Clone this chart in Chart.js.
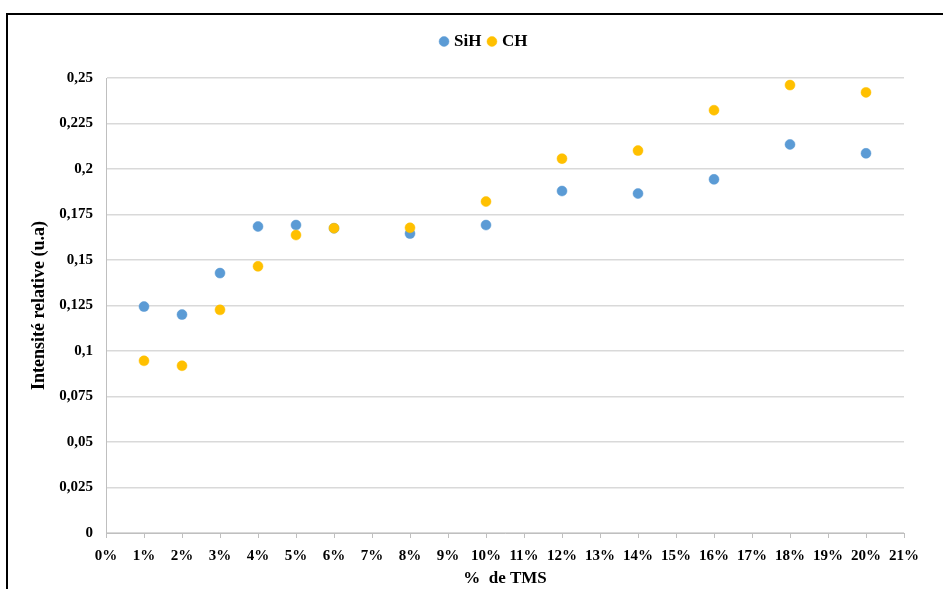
<!DOCTYPE html>
<html>
<head>
<meta charset="utf-8">
<script src="https://cdn.jsdelivr.net/npm/chart.js@4.4.1/dist/chart.umd.min.js"></script>
<style>
  html, body { margin: 0; padding: 0; background: #fff; overflow: hidden; }
  #wrap { position: relative; width: 943px; height: 589px; }
  #frame { position: absolute; left: 6px; top: 13px; width: 960px; height: 600px;
           border-top: 2px solid #000; border-left: 2px solid #000; pointer-events: none; }
</style>
</head>
<body>
<div id="wrap">
  <canvas id="c" width="943" height="589"></canvas>
  <div id="frame"></div>
</div>
<script>
// ---- data ----
const tmsPercent = [1, 2, 3, 4, 5, 6, 8, 10, 12, 14, 16, 18, 20];
const sihValues  = [0.1244, 0.1200, 0.1428, 0.1684, 0.1692, 0.1674, 0.1645, 0.1692, 0.1879, 0.1865, 0.1943, 0.2135, 0.2086];
const chValues   = [0.0946, 0.0919, 0.1226, 0.1465, 0.1637, 0.1675, 0.1677, 0.1821, 0.2057, 0.2101, 0.2323, 0.2461, 0.2421];
const xTickLabels = ['0%','1%','2%','3%','4%','5%','6%','7%','8%','9%','10%','11%','12%','13%','14%','15%','16%','17%','18%','19%','20%','21%'];
const yTickLabels = ['0','0,025','0,05','0,075','0,1','0,125','0,15','0,175','0,2','0,225','0,25'];
const seriesNames = ['SiH', 'CH'];
const xTitle = '%  de TMS';
const yTitle = 'Intensité relative (u.a)';

const FONT = '"Liberation Serif", "Times New Roman", serif';
const toPts = (ys) => tmsPercent.map((x, i) => ({ x: x, y: ys[i] }));

const legendHeight = {
  id: 'legendHeight',
  beforeInit(chart) {
    const orig = chart.legend.fit;
    chart.legend.fit = function () { orig.call(this); this.height = 54; };
  }
};

new Chart(document.getElementById('c'), {
  type: 'scatter',
  data: {
    datasets: [
      { label: seriesNames[1], data: toPts(chValues), backgroundColor: '#FFC000', borderColor: '#FFC000',
        pointRadius: 5, pointHoverRadius: 5, borderWidth: 0.5 },
      { label: seriesNames[0], data: toPts(sihValues), backgroundColor: '#5B9BD5', borderColor: '#5B9BD5',
        pointRadius: 5, pointHoverRadius: 5, borderWidth: 0.5 }
    ]
  },
  options: {
    responsive: false,
    animation: false,
    layout: { padding: { left: 27, right: 0, top: 24, bottom: 0 } },
    plugins: {
      tooltip: { enabled: false },
      legend: {
        position: 'top',
        reverse: true,
        labels: {
          usePointStyle: true, pointStyle: 'circle', boxWidth: 3, boxHeight: 7, padding: 9,
          color: '#000', font: { family: FONT, size: 17, weight: 'bold' }
        }
      }
    },
    scales: {
      x: {
        type: 'linear', min: 0, max: 21,
        ticks: { stepSize: 1, autoSkip: false, maxRotation: 0, color: '#000', padding: 9,
                 font: { family: FONT, size: 15, weight: 'bold' },
                 callback: (v) => xTickLabels[Math.round(v)] },
        grid: { drawOnChartArea: false, drawTicks: true, tickLength: 5, color: '#bfbfbf' },
        border: { display: true, color: '#bfbfbf', width: 1 },
        title: { display: true, text: xTitle, color: '#000', padding: { top: 0, bottom: 0 },
                 font: { family: FONT, size: 17, weight: 'bold' } },
        afterFit: (s) => { s.height = 56; }
      },
      y: {
        type: 'linear', min: 0, max: 0.25,
        ticks: { stepSize: 0.025, color: '#000', padding: 13,
                 font: { family: FONT, size: 15, weight: 'bold' },
                 callback: (v, i) => yTickLabels[i] },
        grid: { color: '#d9d9d9', lineWidth: 1.5, drawTicks: false },
        border: { display: true, color: '#bfbfbf', width: 1 },
        title: { display: true, text: yTitle, color: '#000', padding: { top: 2, bottom: 0 },
                 font: { family: FONT, size: 18, weight: 'bold' } },
        afterFit: (s) => { s.width = 79; }
      },
      yR: {
        type: 'linear', position: 'right', display: true,
        ticks: { display: false }, grid: { display: false }, border: { display: false },
        afterFit: (s) => { s.width = 39; }
      }
    }
  },
  plugins: [legendHeight]
});
</script>
</body>
</html>
